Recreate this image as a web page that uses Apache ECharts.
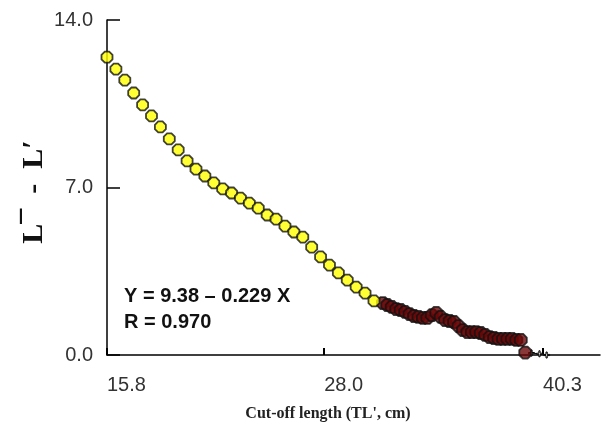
<!DOCTYPE html>
<html>
<head>
<meta charset="utf-8">
<script src="https://cdn.jsdelivr.net/npm/echarts@6/dist/echarts.min.js"></script>
<style>html,body{margin:0;padding:0;background:#fff}#c{width:607px;height:432px}</style>
</head>
<body>
<div id="c"></div>
<script>
// x values (cut-off length, cm) and y values (L̄ - L')
var yellowX = [15.8,16.3,16.8,17.3,17.8,18.3,18.8,19.3,19.8,20.3,20.8,21.3,21.8,22.3,22.8,23.3,23.8,24.3,24.8,25.3,25.8,26.3,26.8,27.3,27.8,28.3,28.8,29.3,29.8,30.3,30.8];
var yellowY = [12.45,11.95,11.49,10.95,10.45,9.99,9.53,9.03,8.57,8.11,7.77,7.48,7.19,6.94,6.77,6.56,6.35,6.14,5.85,5.68,5.39,5.14,4.93,4.51,4.10,3.76,3.43,3.13,2.84,2.59,2.26];
var redX = [31.30,31.55,31.80,32.05,32.30,32.55,32.80,33.05,33.30,33.55,33.80,34.05,34.30,34.55,34.80,35.05,35.30,35.55,35.80,36.05,36.30,36.55,36.80,37.05,37.30,37.55,37.80,38.05,38.30,38.55,38.80,39.05,39.30];
var redY = [2.17,2.09,2.01,1.92,1.88,1.80,1.71,1.63,1.59,1.55,1.55,1.67,1.76,1.59,1.46,1.42,1.38,1.21,1.04,0.96,0.96,0.96,0.92,0.84,0.75,0.71,0.67,0.67,0.67,0.67,0.63,0.63,0.10];
var tailX = [39.65,40.1,40.5];
var tailY = [0.08,0.05,0.0];
var xTickLabels = [15.8, 28.0, 40.3];
var yTickLabels = [0, 7, 14];

function pairs(xs, ys){ return xs.map(function(v,i){ return [v, ys[i]]; }); }
var oct = 'path://M3,0L7,0L10,3L10,7L7,10L3,10L0,7L0,3Z';
var cross = 'path://M4,0L6,0L6,4L10,4L10,6L6,6L6,10L4,10L4,6L0,6L0,4L4,4Z';

var chart = echarts.init(document.getElementById('c'), null, {renderer:'canvas'});
chart.setOption({
  animation: false,
  backgroundColor: '#fff',
  grid: {left: 107, right: 7, top: 20, bottom: 77, containLabel: false},
  xAxis: {
    type: 'value', min: 15.8, max: 43.5,
    splitLine: {show: false},
    axisLine: {show: true, onZero: false, lineStyle: {color: '#000', width: 1.5}},
    axisTick: {show: true, inside: true, length: 7, customValues: xTickLabels, lineStyle: {color: '#000', width: 2}},
    axisLabel: {customValues: xTickLabels, margin: 20, align: 'left',
      formatter: function(v){ return v.toFixed(1); },
      fontFamily: 'Liberation Sans, Arial, sans-serif', fontSize: 20, color: '#333'}
  },
  yAxis: {
    type: 'value', min: 0, max: 14, interval: 7,
    splitLine: {show: false},
    axisLine: {show: true, lineStyle: {color: '#000', width: 1.5}},
    axisTick: {show: true, inside: true, length: 13, lineStyle: {color: '#000', width: 1.5}},
    axisLabel: {margin: 14, formatter: function(v){ return v.toFixed(1); },
      fontFamily: 'Liberation Sans, Arial, sans-serif', fontSize: 20, color: '#333'}
  },
  series: [
    {type: 'scatter', name: 'used', data: pairs(yellowX, yellowY), symbol: oct, symbolSize: 11,
     itemStyle: {color: '#ffff00', borderColor: '#111', borderWidth: 1.8}, z: 3},
    {type: 'scatter', name: 'excluded', data: pairs(redX, redY), symbol: oct, symbolSize: 12,
     itemStyle: {color: '#6a0606', borderColor: '#111', borderWidth: 1.8}, z: 2},
    {type: 'line', name: 'tail', data: pairs(tailX, tailY), symbol: cross, symbolSize: 6,
     lineStyle: {color: '#000', width: 1}, itemStyle: {color: '#fff', borderColor: '#000', borderWidth: 1}, z: 1}
  ],
  graphic: [
    {type: 'text', left: 124, top: 286, style: {text: 'Y = 9.38 \u2013 0.229 X', fontFamily: 'Liberation Sans, Arial, sans-serif', fontWeight: 'bold', fontSize: 20, fill: '#111'}},
    {type: 'text', left: 124, top: 312, style: {text: 'R = 0.970', fontFamily: 'Liberation Sans, Arial, sans-serif', fontWeight: 'bold', fontSize: 20, fill: '#111'}},
    {type: 'text', x: 34, y: 192, rotation: Math.PI/2, style: {text: 'L\u00AF  -  L\u2032', fontFamily: 'Liberation Serif, Times New Roman, serif', fontWeight: 'bold', fontSize: 30, fill: '#111', align: 'center', verticalAlign: 'middle'}},
    {type: 'text', x: 328, y: 414, style: {text: "Cut-off length (TL', cm)", fontFamily: 'Liberation Serif, Times New Roman, serif', fontWeight: 'bold', fontSize: 16, fill: '#222', align: 'center', verticalAlign: 'middle'}}
  ]
});
</script>
</body>
</html>
